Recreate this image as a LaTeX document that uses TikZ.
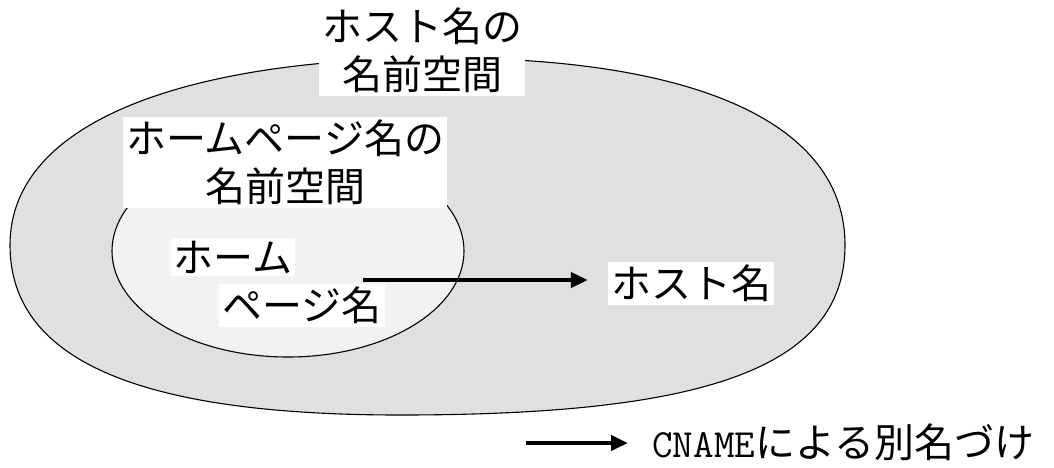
\documentclass[tikz,border=0pt]{standalone}
\usepackage{fontspec}
\newfontfamily\jp{Noto Sans CJK JP}
\usetikzlibrary{arrows.meta}
\definecolor{outerfill}{HTML}{E0E0E0}
\definecolor{innerfill}{HTML}{F2F2F2}
\tikzset{
  lbl/.style={fill=white, inner sep=3pt, align=center, font=\jp\fontsize{40}{48}\selectfont},
  cname/.style={line width=4.5pt, -{Triangle[length=17pt,width=15pt]}},
  region/.style={draw=black, line width=1.1pt},
}
\begin{document}
\begin{tikzpicture}[x=1pt,y=-1pt]
\useasboundingbox (0,0) rectangle (1054,467);
% outer host-name namespace
\path[region, fill=outerfill] (10,245) .. controls (10,120) and (190,60) .. (430,58)
  .. controls (700,56) and (845,125) .. (845,245)
  .. controls (845,370) and (700,415) .. (400,415)
  .. controls (150,415) and (10,365) .. (10,245) -- cycle;
% inner homepage-name namespace
\path[region, fill=innerfill] (288,251) ellipse [x radius=176, y radius=106];
% labels
\node[lbl] (hostns) at (422,50) {ホスト名の\\名前空間};
\node[lbl] (homens) at (285,162) {ホームページ名の\\名前空間};
\node[lbl] (home1) at (233,257) {ホーム};
\node[lbl] (home2) at (302,305) {ページ名};
\node[lbl] (host) at (691,283) {ホスト名};
\coordinate (src) at (363,280);
\draw[cname, shorten >=20pt] (src) -- (src -| host.west);
% legend
\node[anchor=west, inner sep=0pt, font=\jp\fontsize{40}{48}\selectfont] (legend) at (652,442) {{\ttfamily\fontsize{40}{40}\selectfont CNAME}による別名づけ};
\coordinate (lg) at (526,443);
\draw[cname, shorten >=24pt] (lg) -- (lg -| legend.west);
\end{tikzpicture}
\end{document}
